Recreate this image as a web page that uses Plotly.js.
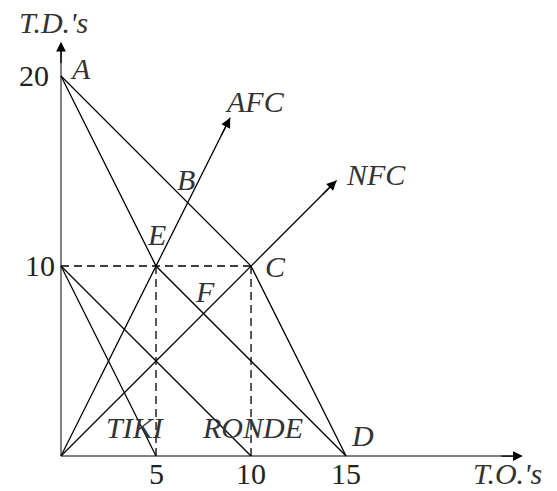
<!DOCTYPE html>
<html>
<head>
<meta charset="utf-8">
<script src="https://cdn.plot.ly/plotly-3.0.1.min.js"></script>
<style>html,body{margin:0;padding:0;background:#fff;}#chart{width:557px;height:491px;}</style>
</head>
<body>
<div id="chart"></div>
<script>
// Key points (T.O.'s, T.D.'s)
const pointNames = ["A", "B", "C", "D", "E", "F"];
const pointX = [0, 20/3, 10, 15, 5, 7.5];
const pointY = [20, 40/3, 10, 0, 10, 7.5];

// Solid lines
const lineACD_x = [0, 10, 15];
const lineACD_y = [20, 10, 0];
const lineAED_x = [0, 5, 15];
const lineAED_y = [20, 10, 0];
const lineTiki_x = [0, 5];
const lineTiki_y = [10, 0];
const lineRonde_x = [0, 10];
const lineRonde_y = [10, 0];
const rayAFC_x = [0, 8.9];
const rayAFC_y = [0, 17.8];
const rayNFC_x = [0, 14.5];
const rayNFC_y = [0, 14.5];

// Dashed guide lines
const dashH_x = [0, 10];
const dashH_y = [10, 10];
const dash5_x = [5, 5];
const dash5_y = [10, 0];
const dash10_x = [10, 10];
const dash10_y = [10, 0];

// Axes extents
const xAxisEnd = 24.3;
const yAxisEnd = 21.8;

// Tick labels
const xTicks = [5, 10, 15];
const xTickLabels = ["5", "10", "15"];
const yTicks = [10, 20];
const yTickLabels = ["10", "20"];

// Text labels
const labelText = ["T.D.'s", "A", "AFC", "NFC", "B", "E", "C", "F", "D", "TIKI", "RONDE"];
const labelX = [-0.4, 1.0, 10.2, 16.6, 6.6, 5.05, 11.3, 7.6, 15.85, 3.9, 10.1];
const labelY = [22.8, 20.4, 18.65, 14.8, 14.55, 11.65, 9.95, 8.65, 1.1, 1.5, 1.5];
const xTitle = "T.O.'s";
const xTitleX = 23.5;

const black = "#000";
const solid = {color: black, width: 1.3};
const dashed = {color: black, width: 1.3, dash: "8px,5px"};
function tr(x, y, line) {
  return {x: x, y: y, mode: "lines", line: line, hoverinfo: "skip", showlegend: false, type: "scatter"};
}

const traces = [
  tr([0, xAxisEnd - 0.3], [0, 0], {color: "#808080", width: 2}),
  tr([0, 0], [0, yAxisEnd - 0.3], {color: "#808080", width: 2}),
  tr(lineACD_x, lineACD_y, solid),
  tr(lineAED_x, lineAED_y, solid),
  tr(lineTiki_x, lineTiki_y, solid),
  tr(lineRonde_x, lineRonde_y, solid),
  tr(rayAFC_x, rayAFC_y, solid),
  tr(rayNFC_x, rayNFC_y, solid),
  tr(dashH_x, dashH_y, dashed),
  tr(dash5_x, dash5_y, dashed),
  tr(dash10_x, dash10_y, dashed)
];

const annotations = [];
function arrow(tx, ty, fx, fy) {
  annotations.push({x: tx, y: ty, ax: fx, ay: fy, xref: "x", yref: "y", axref: "x", ayref: "y",
    text: "", showarrow: true, arrowhead: 2, arrowsize: 1.5, arrowwidth: 1.3, arrowcolor: black, standoff: 0});
}
arrow(xAxisEnd, 0, xAxisEnd - 1.2, 0);
arrow(0, yAxisEnd, 0, yAxisEnd - 1.2);
arrow(rayAFC_x[1], rayAFC_y[1], rayAFC_x[1] - 0.5, rayAFC_y[1] - 1.0);
arrow(rayNFC_x[1], rayNFC_y[1], rayNFC_x[1] - 0.8, rayNFC_y[1] - 0.8);

const letterFont = {family: "Liberation Serif, Times New Roman, serif", size: 30, color: "#333", style: "italic"};
const numFont = {family: "Liberation Serif, Times New Roman, serif", size: 30, color: "#222"};
for (let i = 0; i < labelText.length; i++) {
  annotations.push({x: labelX[i], y: labelY[i], xref: "x", yref: "y", text: labelText[i], showarrow: false,
    xanchor: "center", yanchor: "middle", font: letterFont});
}
// bottom row: anchor to bottom edge of the plot so the boxes stay inside
annotations.push({x: xTitleX, y: 0, xref: "x", yref: "paper", text: xTitle, showarrow: false,
  xanchor: "center", yanchor: "bottom", borderpad: 0, font: letterFont});
for (let i = 0; i < xTicks.length; i++) {
  annotations.push({x: xTicks[i], y: 0, xref: "x", yref: "paper", text: xTickLabels[i], showarrow: false,
    xanchor: "center", yanchor: "bottom", borderpad: 0, font: numFont});
}
const yTickX = [-1.1, -1.42];
for (let i = 0; i < yTicks.length; i++) {
  annotations.push({x: yTickX[i], y: yTicks[i] + 0.05, xref: "x", yref: "y", text: yTickLabels[i], showarrow: false,
    xanchor: "center", yanchor: "middle", font: numFont});
}

const layout = {
  width: 557, height: 491,
  margin: {l: 0, r: 0, t: 0, b: 0},
  paper_bgcolor: "#fff", plot_bgcolor: "#fff",
  xaxis: {range: [-3.21, 26.1], visible: false, showgrid: false, zeroline: false, fixedrange: true},
  yaxis: {range: [-1.84, 24.0], visible: false, showgrid: false, zeroline: false, fixedrange: true},
  showlegend: false,
  annotations: annotations
};

Plotly.newPlot("chart", traces, layout, {displayModeBar: false, staticPlot: true});
</script>
</body>
</html>
